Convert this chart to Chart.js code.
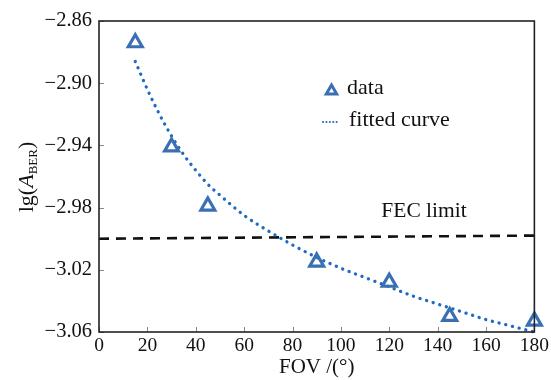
<!DOCTYPE html>
<html>
<head>
<meta charset="utf-8">
<script src="https://cdn.jsdelivr.net/npm/chart.js@4.4.0/dist/chart.umd.min.js"></script>
<style>
  html, body { margin: 0; padding: 0; background: #ffffff; }
  #wrap { width: 551px; height: 380px; position: relative; }
</style>
</head>
<body>
<div id="wrap"><canvas id="c" width="551" height="380"></canvas></div>
<script>
// ---- data ----
const fovMeasured = [15, 30, 45, 90, 120, 145, 180];
const lgMeasured  = [-2.874, -2.941, -2.979, -3.015, -3.028, -3.050, -3.053];

const fovFit = [15, 20, 25, 30, 35, 40, 45, 50, 60, 70, 80, 90, 100, 110, 120, 130, 140, 150, 160, 170, 180];
const lgFit  = [-2.886, -2.904, -2.920, -2.934, -2.946, -2.956, -2.965, -2.972, -2.985, -2.995, -3.004, -3.012, -3.019, -3.025, -3.031, -3.037, -3.042, -3.047, -3.052, -3.056, -3.060];

const fecX = [0, 180];
const fecY = [-3.000, -2.998];

const xTicks = [0, 20, 40, 60, 80, 100, 120, 140, 160, 180];
const yTicks = [-3.06, -3.02, -2.98, -2.94, -2.90, -2.86];

const labelData = 'data';
const labelFit = 'fitted curve';
const labelFec = 'FEC limit';
const xTitle = 'FOV /(°)';

// ---- styles ----
const TRI_COLOR = '#3a70b3';
const FIT_COLOR = '#1f6bc2';
const SERIF = '"Liberation Serif", "DejaVu Serif", serif';

const toPts = (xs, ys) => xs.map((x, i) => ({ x: x, y: ys[i] }));

const framePlugin = {
  id: 'frame',
  afterDatasetsDraw(chart) {
    const { ctx, chartArea: a, scales: { x, y } } = chart;
    ctx.save();
    // inner tick marks
    ctx.strokeStyle = '#888888';
    ctx.lineWidth = 1;
    xTicks.forEach(v => {
      const px = Math.round(x.getPixelForValue(v)) + 0.5;
      ctx.beginPath(); ctx.moveTo(px, a.bottom); ctx.lineTo(px, a.bottom - 5); ctx.stroke();
    });
    yTicks.forEach(v => {
      const py = Math.round(y.getPixelForValue(v)) + 0.5;
      ctx.beginPath(); ctx.moveTo(a.left, py); ctx.lineTo(a.left + 5, py); ctx.stroke();
    });
    // frame
    ctx.strokeStyle = '#222222';
    ctx.lineWidth = 1.6;
    ctx.strokeRect(a.left, a.top, a.right - a.left, a.bottom - a.top);

    // legend
    ctx.fillStyle = '#111111';
    ctx.font = '22px ' + SERIF;
    ctx.textBaseline = 'middle';
    ctx.textAlign = 'left';
    // triangle marker
    const tx = 331.5, ty = 91, r = 6;
    ctx.strokeStyle = TRI_COLOR; ctx.lineWidth = 3; ctx.lineJoin = 'miter';
    ctx.beginPath();
    ctx.moveTo(tx, ty - r);
    ctx.lineTo(tx + r * 0.866, ty + r * 0.5);
    ctx.lineTo(tx - r * 0.866, ty + r * 0.5);
    ctx.closePath(); ctx.stroke();
    ctx.fillText(labelData, 347, 88);
    // dotted sample
    ctx.strokeStyle = FIT_COLOR; ctx.lineWidth = 2; ctx.lineCap = 'round';
    ctx.setLineDash([0.1, 3.3]);
    ctx.beginPath(); ctx.moveTo(323, 122); ctx.lineTo(339.5, 122); ctx.stroke();
    ctx.setLineDash([]);
    ctx.fillText(labelFit, 349, 120);

    // FEC limit label
    ctx.textAlign = 'center';
    ctx.font = '21.5px ' + SERIF;
    ctx.fillText(labelFec, 424, 211);

    // y-axis title with subscript
    ctx.translate(26, 177);
    ctx.rotate(-Math.PI / 2);
    ctx.textAlign = 'left';
    ctx.textBaseline = 'alphabetic';
    const p1 = 'lg(', p2 = 'A', p3 = 'BER', p4 = ')';
    ctx.font = '22px ' + SERIF;
    const w1 = ctx.measureText(p1).width;
    ctx.font = 'italic 22px ' + SERIF;
    const w2 = ctx.measureText(p2).width;
    ctx.font = '13px ' + SERIF;
    const w3 = ctx.measureText(p3).width;
    ctx.font = '22px ' + SERIF;
    const w4 = ctx.measureText(p4).width;
    let sx = -(w1 + w2 + w3 + w4) / 2;
    const base = 7;
    ctx.font = '22px ' + SERIF; ctx.fillText(p1, sx, base); sx += w1;
    ctx.font = 'italic 22px ' + SERIF; ctx.fillText(p2, sx, base); sx += w2;
    ctx.font = '13px ' + SERIF; ctx.fillText(p3, sx, base + 4); sx += w3;
    ctx.font = '22px ' + SERIF; ctx.fillText(p4, sx, base);
    ctx.restore();
  }
};

new Chart(document.getElementById('c'), {
  type: 'scatter',
  data: {
    datasets: [
      {
        label: labelFec,
        data: toPts(fecX, fecY),
        showLine: true,
        borderColor: '#111111',
        borderWidth: 2.6,
        borderDash: [10, 7],
        pointRadius: 0,
        fill: false,
        order: 3
      },
      {
        label: labelFit,
        data: toPts(fovFit, lgFit),
        showLine: true,
        borderColor: FIT_COLOR,
        borderWidth: 3.3,
        borderCapStyle: 'round',
        borderDash: [0.1, 6.8],
        cubicInterpolationMode: 'monotone',
        pointRadius: 0,
        fill: false,
        order: 2
      },
      {
        label: labelData,
        data: toPts(fovMeasured, lgMeasured),
        showLine: false,
        pointStyle: 'triangle',
        pointRadius: 8,
        pointBorderWidth: 3.2,
        pointBorderColor: TRI_COLOR,
        pointBackgroundColor: 'rgba(255,255,255,0)',
        order: 1
      }
    ]
  },
  options: {
    responsive: false,
    animation: false,
    clip: false,
    layout: { padding: { top: 21, right: 14, left: 0, bottom: 0 } },
    plugins: { legend: { display: false }, tooltip: { enabled: false } },
    scales: {
      x: {
        type: 'linear',
        min: 0, max: 180,
        afterBuildTicks: s => { s.ticks = xTicks.map(v => ({ value: v })); },
        afterFit: s => { s.height = 48; },
        grid: { display: false, drawTicks: false },
        border: { display: false },
        ticks: {
          color: '#111111',
          font: { family: SERIF, size: 19.5 },
          padding: 2,
          maxRotation: 0,
          autoSkip: false
        },
        title: {
          display: true,
          text: xTitle,
          color: '#111111',
          font: { family: SERIF, size: 21 },
          padding: { top: 0, bottom: 0 }
        }
      },
      y: {
        type: 'linear',
        min: -3.06, max: -2.86,
        afterBuildTicks: s => { s.ticks = yTicks.map(v => ({ value: v })); },
        afterFit: s => { s.width = 99; },
        grid: { display: false, drawTicks: false },
        border: { display: false },
        ticks: {
          color: '#111111',
          font: { family: SERIF, size: 20.5 },
          padding: 7,
          autoSkip: false,
          callback: v => v.toFixed(2).replace('-', '\u2212')
        }
      }
    }
  },
  plugins: [framePlugin]
});
</script>
</body>
</html>
